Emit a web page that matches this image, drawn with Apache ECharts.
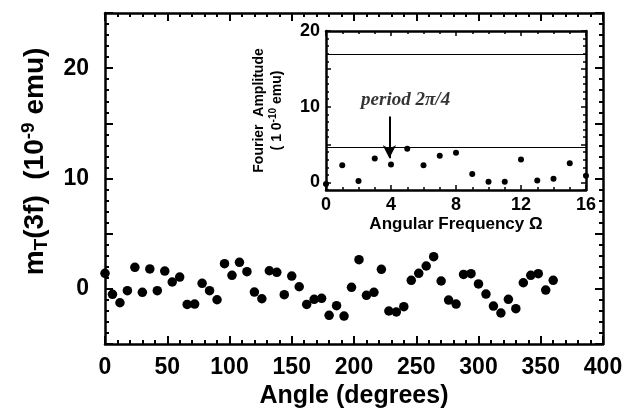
<!DOCTYPE html>
<html>
<head>
<meta charset="utf-8">
<script src="https://cdn.jsdelivr.net/npm/echarts@6/dist/echarts.min.js"></script>
<style>html,body{margin:0;padding:0;background:#fff}.c{width:626px;height:415px;position:absolute;left:0;top:0}</style>
</head>
<body>
<div class="c" id="main"></div>
<div class="c" id="inset"></div>
<script>
// ---- main panel data ----
const angles = [0,6,12,18,24,30,36,42,48,54,60,66,72,78,84,90,96,102,108,114,120,126,132,138,144,150,156,162,168,174,180,186,192,198,204,210,216,222,228,234,240,246,252,258,264,270,276,282,288,294,300,306,312,318,324,330,336,342,348,354,360];
const moment = [1.41,-0.50,-1.26,-0.17,1.95,-0.32,1.80,-0.17,1.61,0.62,1.07,-1.41,-1.38,0.50,-0.17,-0.99,2.28,1.22,2.40,1.55,-0.29,-0.90,1.64,1.50,-0.53,1.16,0.19,-1.41,-0.95,-0.86,-2.40,-1.53,-2.47,0.14,2.64,-0.59,-0.32,1.77,-2.01,-2.10,-1.62,0.77,1.41,2.07,2.91,0.71,-1.02,-1.38,1.31,1.37,0.44,-0.47,-1.56,-2.19,-0.95,-1.80,0.55,1.22,1.37,-0.11,0.77];
const mainXTicks = [0,50,100,150,200,250,300,350,400];
const mainYTicks = [-5,0,5,10,15,20,25];
const mainYLabels = [0,10,20];
// ---- inset data ----
const freq = [0,1,2,3,4,5,6,7,8,9,10,11,12,13,14,15,16];
const amp = [-0.2,2.27,0.18,3.16,2.36,4.44,2.27,3.51,3.91,1.11,0.09,0.09,3.02,0.27,0.49,2.53,0.89];
const insetXTicks = [0,4,8,12,16];
const insetYTicks = [0,5,10,15,20];
const insetYLabels = [0,10,20];
const thresholds = [16.9, 4.7];
const arrowStart = [3.9, 8.7];
const arrowEnd = [3.9, 3.2];
const noteText = 'period 2π/4';
const notePos = [4.9, 10.9];

const FONT = 'Liberation Sans';

// minor tick positions (axis structure, not data)
function steps(from, to, step, skip) {
  const out = [];
  for (let v = from; v <= to + 1e-9; v += step) {
    const r = Math.round(v * 1000) / 1000;
    if (skip.indexOf(r) < 0) out.push(r);
  }
  return out;
}
// tick segments in data coordinates (converted by the library's scales)
function vTicks(vals, base, len) { return vals.map(v => [{coord: [v, base]}, {coord: [v, base + len]}]); }
function hTicks(vals, base, len) { return vals.map(v => [{coord: [base, v]}, {coord: [base + len, v]}]); }
function tickSeries(segs, width) {
  return {type: 'line', data: [], silent: true,
    markLine: {silent: true, symbol: 'none', label: {show: false}, animation: false,
      emphasis: {disabled: true},
      lineStyle: {color: '#000', width: width, type: 'solid', opacity: 1},
      data: segs}};
}

function frameAxis(extra) {
  return Object.assign({
    type: 'value',
    splitLine: {show: false},
    axisLine: {show: true, onZero: false, lineStyle: {color: '#000', width: 2.5}},
    axisTick: {show: false},
    minorTick: {show: false},
    axisLabel: {show: false}
  }, extra);
}
const bold = (size) => ({color: '#000', fontFamily: FONT, fontWeight: 'bold', fontSize: size});

// ---------- main chart ----------
const mX = {min: 0, max: 400}, mY = {min: -5, max: 25};
const mXLen = 0.725, mYLen = 6.43;           // 8px inward ticks in data units
const mXMinor = steps(0, 400, 10, mainXTicks);
const mYMinor = steps(-5, 25, 1, mainYTicks);
const mainTicks = [].concat(
  vTicks(mainXTicks, mY.min, mXLen), vTicks(mainXTicks, mY.max, -mXLen),
  vTicks(mXMinor, mY.min, mXLen / 2), vTicks(mXMinor, mY.max, -mXLen / 2),
  hTicks(mainYTicks, mX.min, mYLen), hTicks(mainYTicks, mX.max, -mYLen),
  hTicks(mYMinor, mX.min, mYLen / 2), hTicks(mYMinor, mX.max, -mYLen / 2)
);

const mainChart = echarts.init(document.getElementById('main'));
mainChart.setOption({
  animation: false,
  backgroundColor: '#fff',
  grid: [{left: 105, top: 13, width: 498, height: 331}],
  xAxis: [
    frameAxis({position: 'bottom', min: mX.min, max: mX.max, interval: 50,
      axisLabel: Object.assign({show: true, margin: 12,
        formatter: v => mainXTicks.indexOf(v) >= 0 ? String(v) : ''}, bold(23)),
      name: 'Angle (degrees)', nameLocation: 'middle', nameGap: 40, nameTextStyle: bold(25)}),
    frameAxis({position: 'top', min: mX.min, max: mX.max, interval: 50})
  ],
  yAxis: [
    frameAxis({position: 'left', min: mY.min, max: mY.max, interval: 5,
      axisLabel: Object.assign({show: true, margin: 16,
        formatter: v => mainYLabels.indexOf(v) >= 0 ? String(v) : ''}, bold(23)),
      name: 'm{sub|T}(3f)  (10{sup|-9} emu)', nameLocation: 'middle', nameGap: 54, nameRotate: 90,
      nameTextStyle: Object.assign(bold(28), {lineHeight: 32, padding: [0, 0, 0, 34],
        rich: {
          sub: Object.assign(bold(19), {verticalAlign: 'bottom', lineHeight: 32}),
          sup: Object.assign(bold(19), {verticalAlign: 'top', lineHeight: 32})
        }})}),
    frameAxis({position: 'right', min: mY.min, max: mY.max, interval: 5})
  ],
  series: [
    {type: 'scatter', symbol: 'circle', symbolSize: 9.5,
      itemStyle: {color: '#000', opacity: 1}, data: angles.map((a, i) => [a, moment[i]])},
    tickSeries(mainTicks, 2)
  ]
});

// ---------- inset chart (overlaid) ----------
const iX = {min: 0, max: 16}, iY = {min: -1, max: 20};
const iXLen = 0.66, iYLen = 0.31;            // ~5px inward ticks in data units
const iXMinor = steps(0, 16, 1, insetXTicks);
const iYMinor = steps(-1, 20, 1, insetYTicks);
const insetTicks = [].concat(
  vTicks(insetXTicks, iY.min, iXLen), vTicks(insetXTicks, iY.max, -iXLen),
  vTicks(iXMinor, iY.min, iXLen * 0.6), vTicks(iXMinor, iY.max, -iXLen * 0.6),
  hTicks(insetYTicks, iX.min, iYLen), hTicks(insetYTicks, iX.max, -iYLen),
  hTicks(iYMinor, iX.min, iYLen * 0.6), hTicks(iYMinor, iX.max, -iYLen * 0.6)
);

const insetChart = echarts.init(document.getElementById('inset'));
insetChart.setOption({
  animation: false,
  backgroundColor: 'transparent',
  grid: [{left: 326, top: 31, width: 260, height: 159}],
  xAxis: [
    frameAxis({position: 'bottom', min: iX.min, max: iX.max, interval: 4,
      axisLabel: Object.assign({show: true, margin: 6,
        formatter: v => insetXTicks.indexOf(v) >= 0 ? String(v) : ''}, bold(18)),
      name: 'Angular Frequency Ω', nameLocation: 'middle', nameGap: 26, nameTextStyle: bold(17)}),
    frameAxis({position: 'top', min: iX.min, max: iX.max, interval: 4})
  ],
  yAxis: [
    frameAxis({position: 'left', min: iY.min, max: iY.max, interval: 1,
      axisLabel: Object.assign({show: true, margin: 6,
        formatter: v => insetYLabels.indexOf(v) >= 0 ? String(v) : ''}, bold(18)),
      name: 'Fourier  Amplitude\n( 1 0{sup|-10} emu)', nameLocation: 'middle', nameGap: 40, nameRotate: 90,
      nameTextStyle: Object.assign(bold(14), {lineHeight: 18,
        rich: {sup: Object.assign(bold(10), {verticalAlign: 'top', lineHeight: 18})}})}),
    frameAxis({position: 'right', min: iY.min, max: iY.max, interval: 1})
  ],
  series: [
    {type: 'scatter', symbol: 'circle', symbolSize: 6,
      itemStyle: {color: '#000', opacity: 1}, data: freq.map((f, i) => [f, amp[i]]),
      markLine: {silent: true, symbol: 'none', label: {show: false}, animation: false,
        lineStyle: {color: '#000', width: 1, type: 'solid'},
        data: thresholds.map(t => ({yAxis: t}))}},
    {type: 'line', data: [], silent: true,
      markLine: {silent: true, symbol: ['none', 'arrow'], symbolSize: [10, 13], label: {show: false}, animation: false,
        lineStyle: {color: '#000', width: 2, type: 'solid'},
        data: [[{coord: arrowStart}, {coord: arrowEnd}]]}},
    {type: 'scatter', symbolSize: 0, silent: true, data: [notePos],
      label: {show: true, position: 'inside', formatter: noteText, color: '#000',
        fontFamily: 'Liberation Serif', fontStyle: 'italic', fontWeight: 'bold', fontSize: 19}},
    tickSeries(insetTicks, 1.5)
  ]
});
</script>
</body>
</html>
